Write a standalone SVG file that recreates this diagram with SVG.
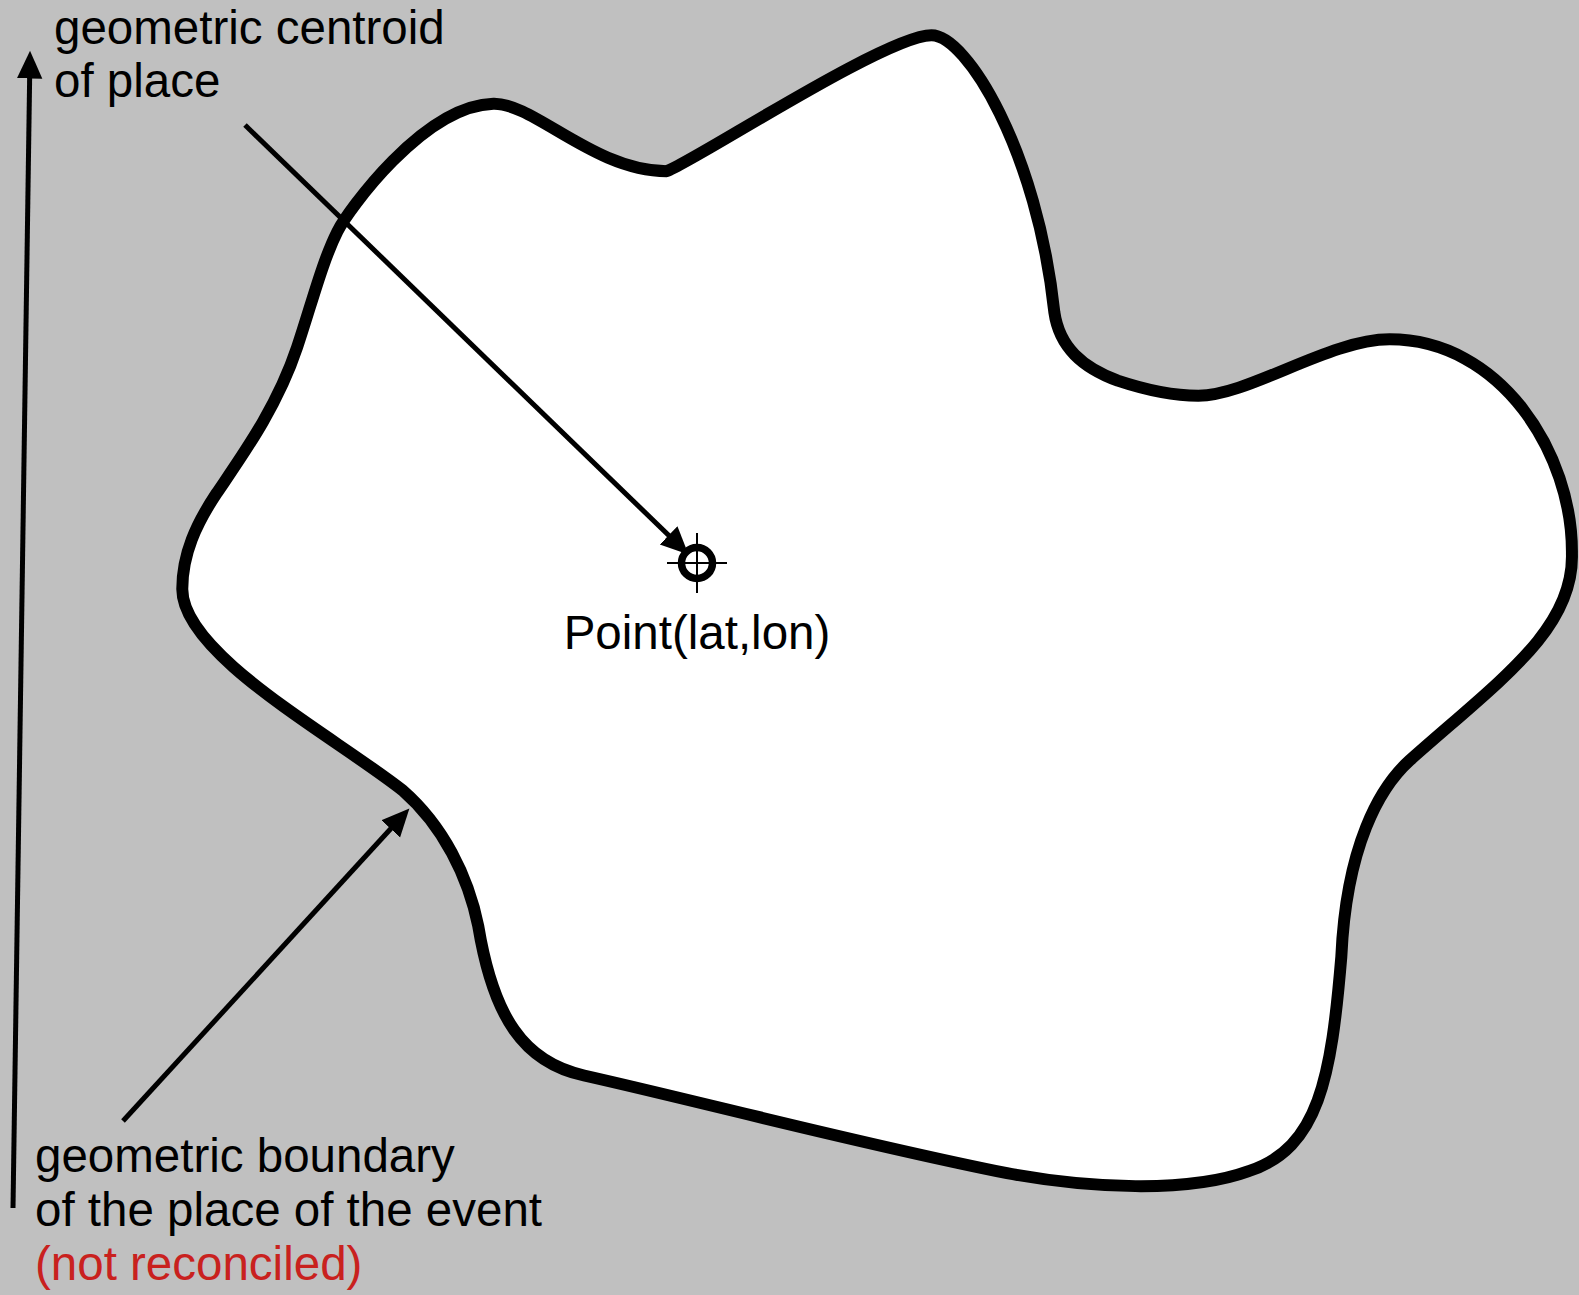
<svg xmlns="http://www.w3.org/2000/svg" width="1579" height="1295" viewBox="0 0 1579 1295">
<style>
.lbl{font-family:"Liberation Sans",Arial,sans-serif;font-size:47.5px;fill:#000}
.red{fill:#c9211e}
.conn{stroke:#000;stroke-width:5;fill:none}
.cross{stroke:#000;stroke-width:2}
</style>
<defs>
<marker id="ah" markerUnits="userSpaceOnUse" markerWidth="30" markerHeight="30" viewBox="0 -12 26 24" refX="10" refY="0" orient="auto">
<path d="M0,-11 L24,0 L0,11 z" fill="#000"/>
</marker>
</defs>
<rect x="0" y="0" width="1579" height="1295" fill="#c0c0c0"/>
<g id="place">
<path transform="scale(1.007)" fill="#fff" stroke="#000" stroke-width="11.9" stroke-linejoin="round" d="M181,585 C181,550 195,520 215,490 C240,453 275,405 295,345 C310,300 320,260 335,230 C345,210 420,105 490,103 C530,102 590,170 662,170 C690,160 880,35 925,35 C960,35 1030,150 1047,310 C1052,345 1075,365 1110,378 C1140,388 1165,393 1190,393 C1240,393 1320,337 1380,337 C1490,337 1562,450 1561,550 C1563,625 1490,675 1400,755 C1370,782 1337,840 1332,950 C1322,1070 1310,1140 1240,1163 C1180,1185 1080,1180 1000,1165 C850,1135 700,1095 580,1068 C520,1055 490,1010 475,920 C465,870 440,820 400,785 C330,730 181,650 181,585 Z"/>
</g>
<g id="connectors">
<line class="conn" x1="245" y1="125" x2="676.9" y2="543.3" marker-end="url(#ah)"/>
<line class="conn" x1="123" y1="1121" x2="398.5" y2="820.3" marker-end="url(#ah)"/>
<line class="conn" x1="13" y1="1208" x2="29.8" y2="67" marker-end="url(#ah)"/>
</g>
<g id="centroid">
<line class="cross" x1="667" y1="563" x2="727" y2="563"/>
<line class="cross" x1="697" y1="533" x2="697" y2="593"/>
<circle cx="697" cy="563" r="15.5" fill="none" stroke="#000" stroke-width="7.5"/>
<text class="lbl" x="697" y="649" text-anchor="middle">Point(lat,lon)</text>
</g>
<g id="label-centroid">
<text class="lbl" x="54" y="44">geometric centroid</text>
<text class="lbl" x="54" y="97">of place</text>
</g>
<g id="label-boundary">
<text class="lbl" x="35" y="1172">geometric boundary</text>
<text class="lbl" x="35" y="1226">of the place of the event</text>
<text class="lbl red" x="35" y="1280">(not reconciled)</text>
</g>
</svg>
